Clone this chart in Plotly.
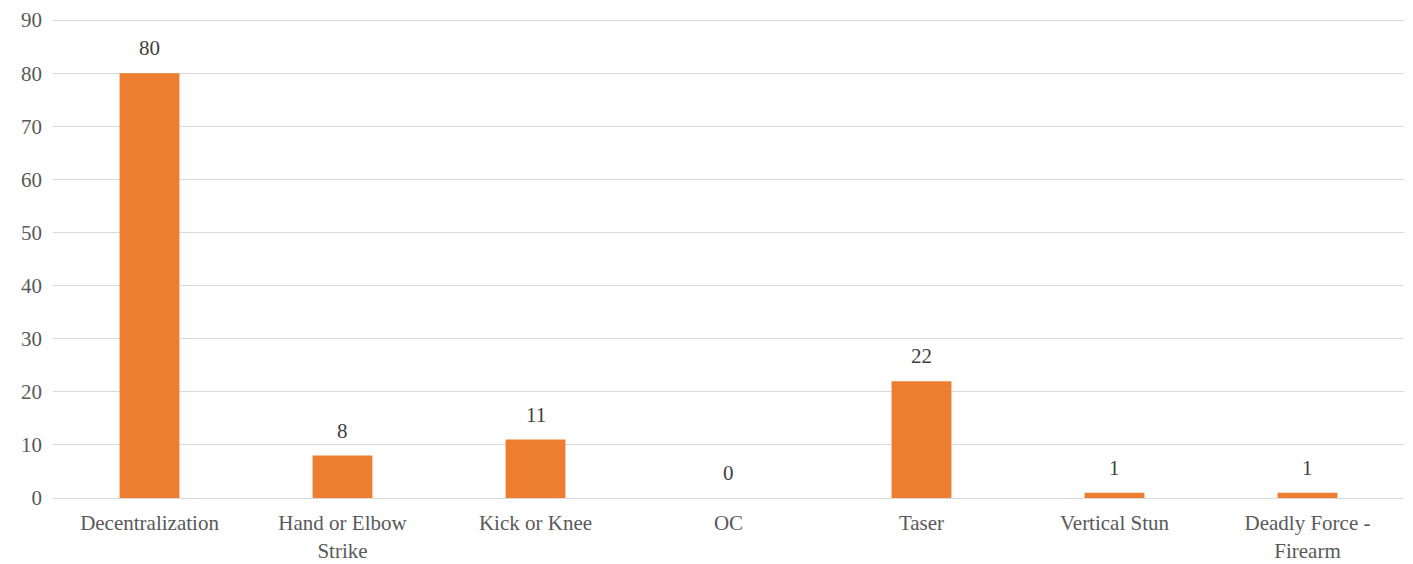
import plotly.graph_objects as go

categories = ["Decentralization", "Hand or Elbow<br>Strike", "Kick or Knee", "OC",
              "Taser", "Vertical Stun", "Deadly Force -<br>Firearm"]
values = [80, 8, 11, 0, 22, 1, 1]
y_ticks = [0, 10, 20, 30, 40, 50, 60, 70, 80, 90]

FONT = "Liberation Serif"
fig = go.Figure(go.Bar(
    x=categories, y=values,
    marker=dict(color="#ED7D31", line=dict(width=0)),
    cliponaxis=False,
))
for c, v in zip(categories, values):
    fig.add_annotation(x=c, y=v, text=str(v), showarrow=False, yanchor="bottom",
                       yshift=11, font=dict(family=FONT, size=21, color="#404040"))
fig.update_layout(
    width=1413, height=564,
    margin=dict(l=53, r=9, t=18, b=66),
    paper_bgcolor="white", plot_bgcolor="white",
    bargap=0.69, showlegend=False,
    font=dict(family=FONT, size=21, color="#595959"),
)
fig.update_yaxes(range=[0, 90.4], tickvals=y_ticks, showgrid=True, gridcolor="#d9d9d9",
                 gridwidth=1.3, zeroline=False, showline=False, ticks="", automargin=False,
                 ticklabelstandoff=10, tickfont=dict(family=FONT, size=21, color="#595959"))
fig.update_xaxes(showline=True, linecolor="#d9d9d9", linewidth=1.3, ticks="", automargin=False,
                 ticklabelstandoff=6,
                 tickfont=dict(family=FONT, size=21, color="#595959"), tickangle=0)
fig.write_html("out.html", config={"displayModeBar": False},
               post_script="document.body.style.margin='0';document.body.style.overflow='hidden';")
